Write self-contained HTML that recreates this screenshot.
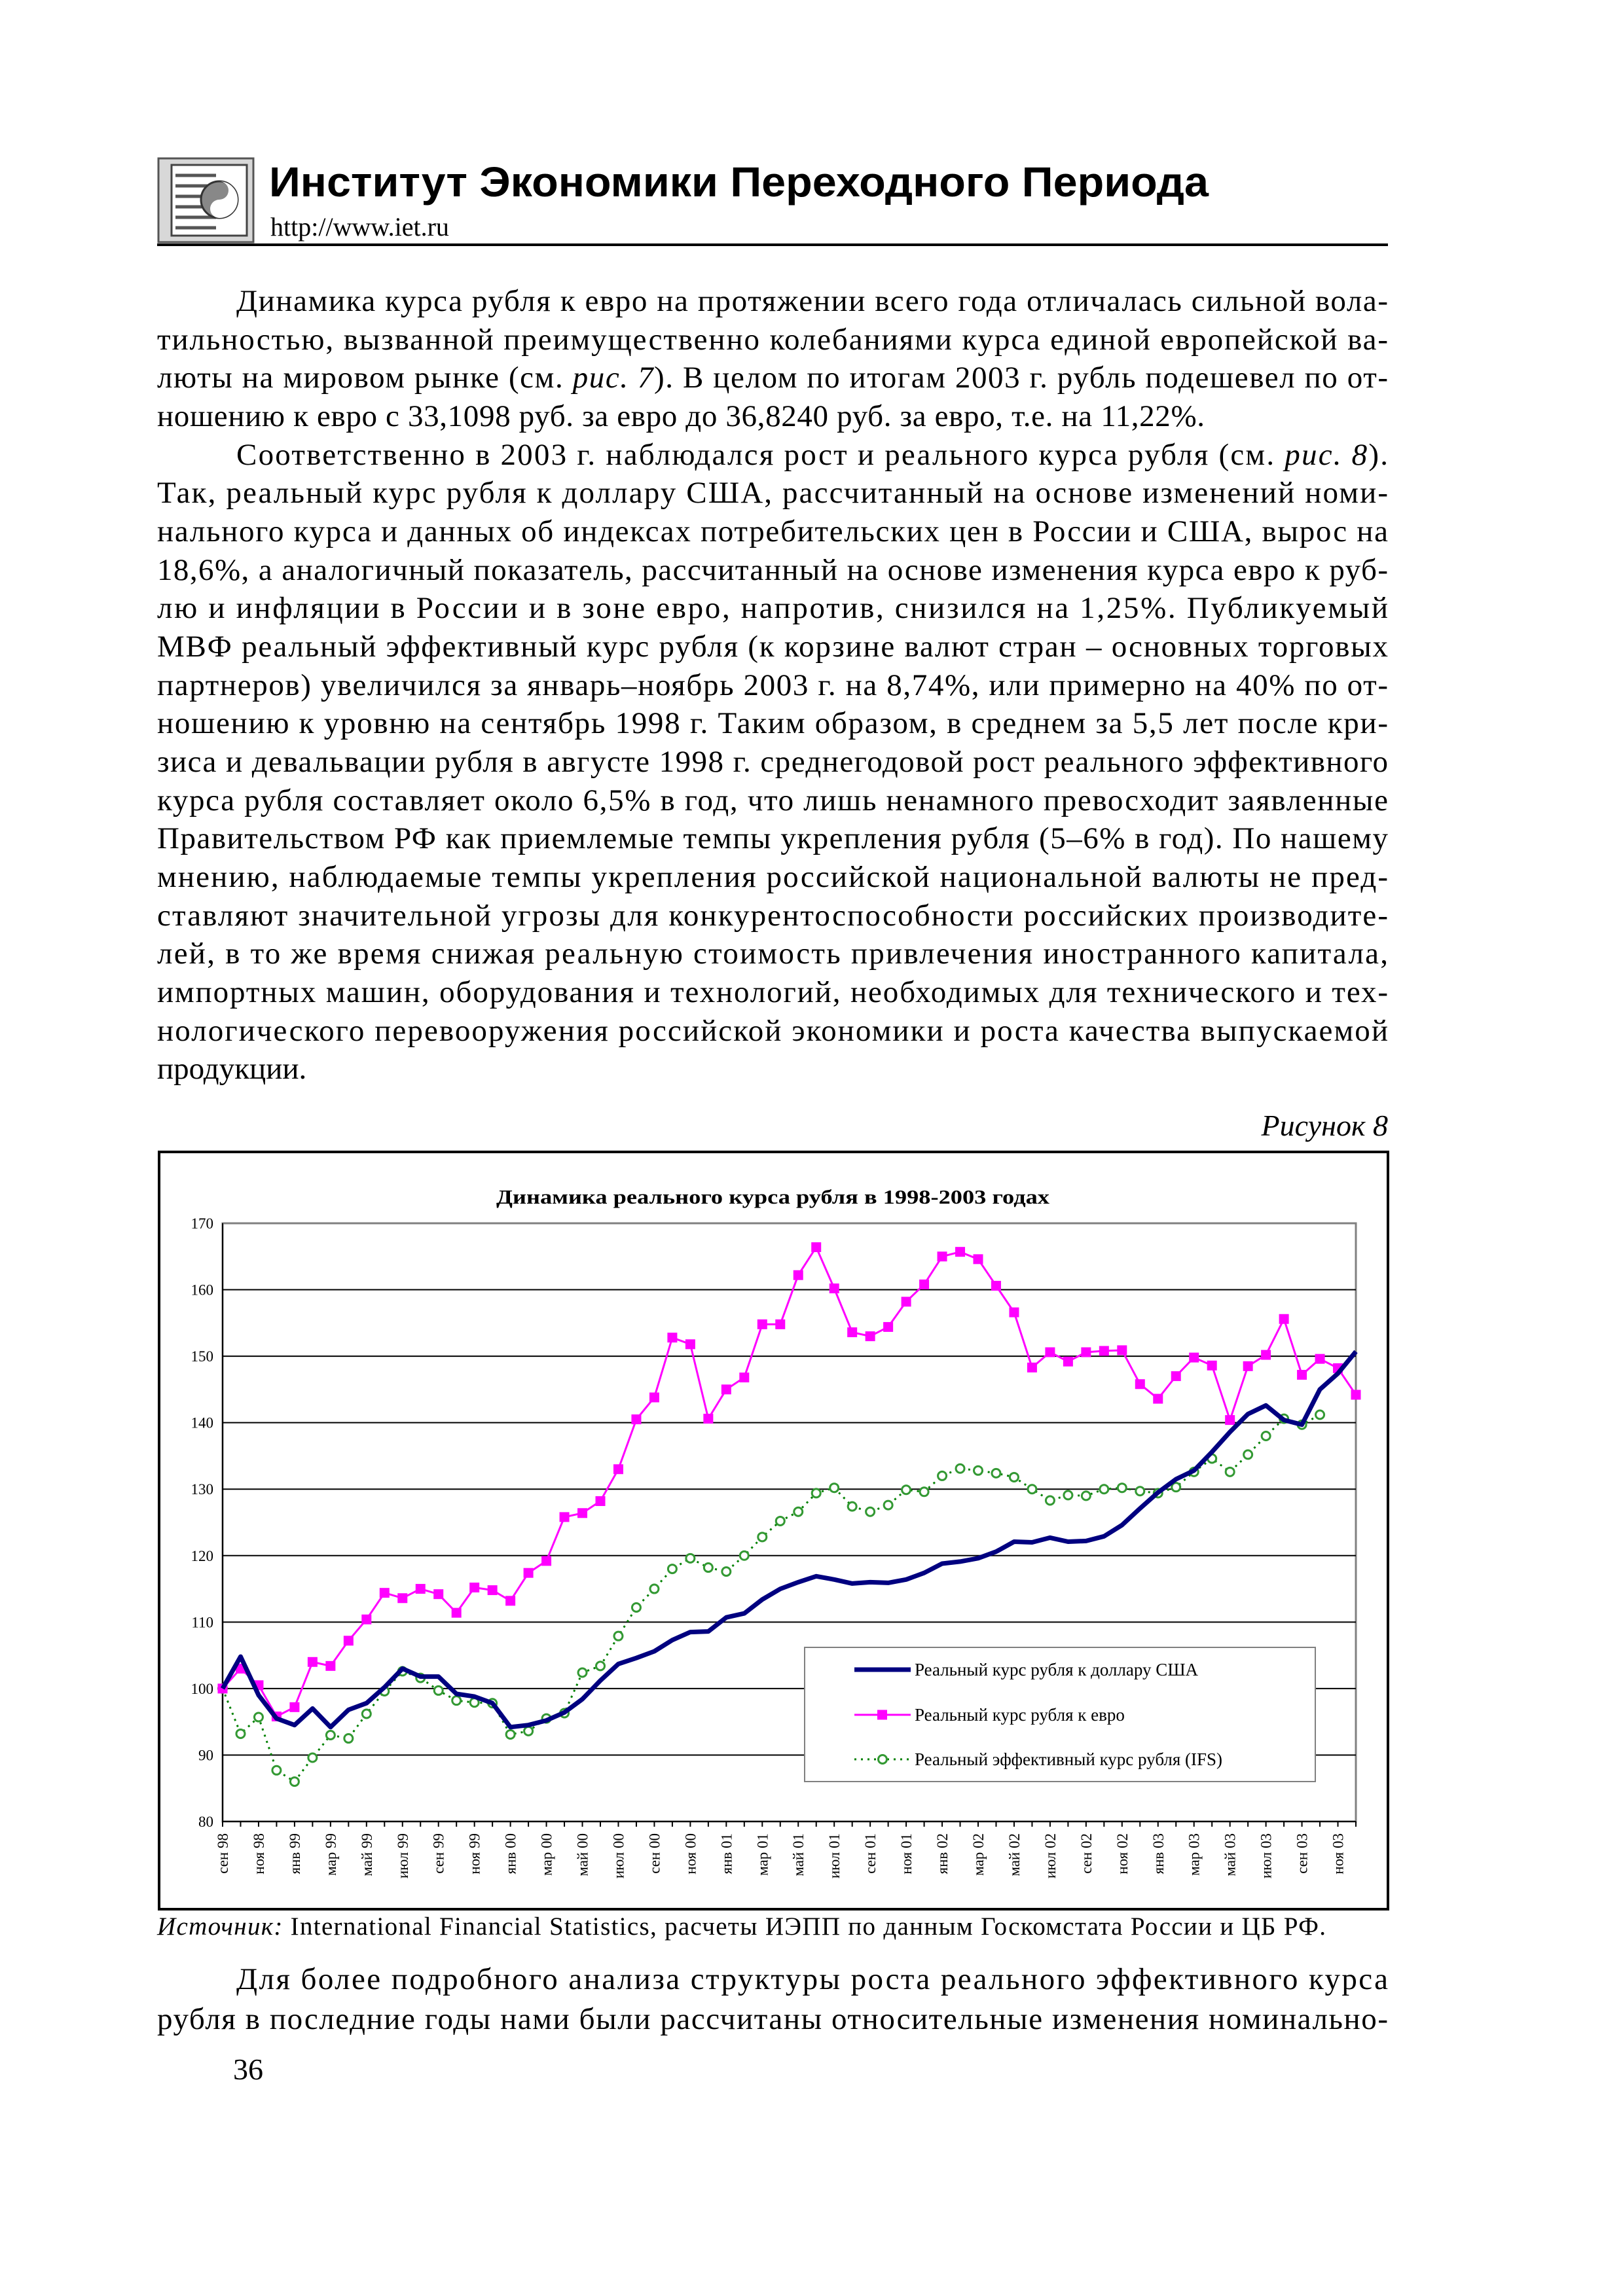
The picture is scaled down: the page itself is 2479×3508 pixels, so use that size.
<!DOCTYPE html>
<html><head><meta charset="utf-8"><style>
html,body{margin:0;padding:0;background:#fff}
svg{display:block}
.b{font-family:"Liberation Serif",serif;font-size:47px;fill:#000}
.ax{font-family:"Liberation Serif",serif;font-size:23px;fill:#000}
</style></head><body>
<svg id="page" xmlns="http://www.w3.org/2000/svg" width="2479" height="3508" viewBox="0 0 2479 3508">
<rect width="2479" height="3508" fill="#fff"/>
<g>
<rect x="242" y="242" width="145" height="128" fill="#d8d8d8" stroke="#555" stroke-width="3"/>
<rect x="262" y="252" width="115" height="108" fill="#fff" stroke="#444" stroke-width="3"/>
<g stroke="#555" stroke-width="5"><line x1="268" y1="268" x2="330" y2="268"/><line x1="268" y1="284" x2="330" y2="284"/><line x1="268" y1="300" x2="310" y2="300"/><line x1="268" y1="316" x2="310" y2="316"/><line x1="268" y1="332" x2="330" y2="332"/><line x1="268" y1="348" x2="330" y2="348"/></g>
<circle cx="335" cy="305" r="28" fill="#888" stroke="#333" stroke-width="3"/>
<path d="M335 277 A28 28 0 0 1 335 333 A14 14 0 0 1 335 305 A14 14 0 0 0 335 277Z" fill="#fff"/>
</g>
<text x="411" y="300" font-family="Liberation Sans, sans-serif" font-weight="bold" font-size="64" textLength="1435" lengthAdjust="spacingAndGlyphs">Институт Экономики Переходного Периода</text>
<text x="413" y="360" font-family="Liberation Serif, serif" font-size="40">http://www.iet.ru</text>
<rect x="240" y="372" width="1880" height="4" fill="#000"/>

<g class="b">
<text x="361" y="475" textLength="1759" lengthAdjust="spacing">Динамика курса рубля к евро на протяжении всего года отличалась сильной вола-</text>
<text x="240" y="534" textLength="1880" lengthAdjust="spacing">тильностью, вызванной преимущественно колебаниями курса единой европейской ва-</text>
<text x="240" y="592" textLength="1880" lengthAdjust="spacing">люты на мировом рынке (см. <tspan font-style="italic">рис. 7</tspan>). В целом по итогам 2003 г. рубль подешевел по от-</text>
<text x="240" y="651" textLength="1600" lengthAdjust="spacing">ношению к евро с 33,1098 руб. за евро до 36,8240 руб. за евро, т.е. на 11,22%.</text>
<text x="361" y="710" textLength="1759" lengthAdjust="spacing">Соответственно в 2003 г. наблюдался рост и реального курса рубля (см. <tspan font-style="italic">рис. 8</tspan>).</text>
<text x="240" y="768" textLength="1880" lengthAdjust="spacing">Так, реальный курс рубля к доллару США, рассчитанный на основе изменений номи-</text>
<text x="240" y="827" textLength="1880" lengthAdjust="spacing">нального курса и данных об индексах потребительских цен в России и США, вырос на</text>
<text x="240" y="886" textLength="1880" lengthAdjust="spacing">18,6%, а аналогичный показатель, рассчитанный на основе изменения курса евро к руб-</text>
<text x="240" y="944" textLength="1880" lengthAdjust="spacing">лю и инфляции в России и в зоне евро, напротив, снизился на 1,25%. Публикуемый</text>
<text x="240" y="1003" textLength="1880" lengthAdjust="spacing">МВФ реальный эффективный курс рубля (к корзине валют стран – основных торговых</text>
<text x="240" y="1062" textLength="1880" lengthAdjust="spacing">партнеров) увеличился за январь–ноябрь 2003 г. на 8,74%, или примерно на 40% по от-</text>
<text x="240" y="1120" textLength="1880" lengthAdjust="spacing">ношению к уровню на сентябрь 1998 г. Таким образом, в среднем за 5,5 лет после кри-</text>
<text x="240" y="1179" textLength="1880" lengthAdjust="spacing">зиса и девальвации рубля в августе 1998 г. среднегодовой рост реального эффективного</text>
<text x="240" y="1238" textLength="1880" lengthAdjust="spacing">курса рубля составляет около 6,5% в год, что лишь ненамного превосходит заявленные</text>
<text x="240" y="1296" textLength="1880" lengthAdjust="spacing">Правительством РФ как приемлемые темпы укрепления рубля (5–6% в год). По нашему</text>
<text x="240" y="1355" textLength="1880" lengthAdjust="spacing">мнению, наблюдаемые темпы укрепления российской национальной валюты не пред-</text>
<text x="240" y="1414" textLength="1880" lengthAdjust="spacing">ставляют значительной угрозы для конкурентоспособности российских производите-</text>
<text x="240" y="1472" textLength="1880" lengthAdjust="spacing">лей, в то же время снижая реальную стоимость привлечения иностранного капитала,</text>
<text x="240" y="1531" textLength="1880" lengthAdjust="spacing">импортных машин, оборудования и технологий, необходимых для технического и тех-</text>
<text x="240" y="1590" textLength="1880" lengthAdjust="spacing">нологического перевооружения российской экономики и роста качества выпускаемой</text>
<text x="240" y="1648">продукции.</text>
</g>
<text x="2120" y="1735" text-anchor="end" font-family="Liberation Serif, serif" font-style="italic" font-size="46">Рисунок 8</text>

<rect x="243" y="1760" width="1877" height="1157" fill="#fff" stroke="#000" stroke-width="4"/>
<text x="758" y="1839" font-family="Liberation Serif, serif" font-weight="bold" font-size="31" textLength="845" lengthAdjust="spacingAndGlyphs">Динамика реального курса рубля в 1998-2003 годах</text>
<g id="chart"></g>

<text x="240" y="2956" font-family="Liberation Serif, serif" font-size="39" textLength="1785" lengthAdjust="spacing"><tspan font-style="italic">Источник:</tspan> International Financial Statistics, расчеты ИЭПП по данным Госкомстата России и ЦБ РФ.</text>
<g class="b">
<text x="361" y="3039" textLength="1759" lengthAdjust="spacing">Для более подробного анализа структуры роста реального эффективного курса</text>
<text x="240" y="3100" textLength="1880" lengthAdjust="spacing">рубля в последние годы нами были рассчитаны относительные изменения номинально-</text>
</g>
<text x="356" y="3177" font-family="Liberation Serif, serif" font-size="46">36</text>
</svg>
<script>
const categories = ["сен 98","окт 98","ноя 98","дек 98","янв 99","фев 99","мар 99","апр 99","май 99","июн 99","июл 99","авг 99","сен 99","окт 99","ноя 99","дек 99","янв 00","фев 00","мар 00","апр 00","май 00","июн 00","июл 00","авг 00","сен 00","окт 00","ноя 00","дек 00","янв 01","фев 01","мар 01","апр 01","май 01","июн 01","июл 01","авг 01","сен 01","окт 01","ноя 01","дек 01","янв 02","фев 02","мар 02","апр 02","май 02","июн 02","июл 02","авг 02","сен 02","окт 02","ноя 02","дек 02","янв 03","фев 03","мар 03","апр 03","май 03","июн 03","июл 03","авг 03","сен 03","окт 03","ноя 03","дек 03"];
const usdSeries = [100,104.8,99,95.5,94.5,97,94.2,96.8,97.8,100.2,103,101.8,101.8,99.2,98.8,97.8,94.2,94.5,95.2,96.4,98.4,101.2,103.7,104.6,105.6,107.3,108.5,108.6,110.7,111.3,113.4,115,116,116.9,116.4,115.8,116,115.9,116.4,117.4,118.8,119.1,119.6,120.6,122.1,122,122.7,122.1,122.2,122.9,124.6,127.1,129.5,131.5,132.8,135.6,138.6,141.3,142.6,140.4,139.7,145,147.4,150.7];
const euroSeries = [100,103,100.5,95.8,97.2,104,103.4,107.2,110.4,114.4,113.6,115,114.2,111.4,115.2,114.8,113.2,117.4,119.2,125.8,126.4,128.2,133,140.5,143.8,152.8,151.8,140.6,145,146.8,154.8,154.8,162.2,166.4,160.2,153.6,153,154.4,158.2,160.8,165,165.7,164.6,160.6,156.6,148.3,150.6,149.2,150.6,150.8,150.9,145.8,143.6,147,149.8,148.6,140.4,148.5,150.2,155.6,147.2,149.6,148.2,144.2];
const ifsSeries = [100,93.2,95.7,87.7,86,89.6,93,92.5,96.2,99.6,102.6,101.6,99.7,98.2,97.9,97.8,93.1,93.6,95.5,96.3,102.4,103.4,107.9,112.2,115,118,119.6,118.2,117.6,120,122.8,125.2,126.6,129.4,130.2,127.4,126.6,127.6,129.9,129.6,132,133.1,132.8,132.4,131.8,130,128.3,129.1,129,130,130.2,129.7,129.4,130.3,132.6,134.6,132.6,135.2,138,140.6,139.7,141.2];
const yTicks = [80,90,100,110,120,130,140,150,160,170];
const seriesNames = ["Реальный курс рубля к доллару США","Реальный курс рубля к евро","Реальный эффективный курс рубля (IFS)"];

const NS = "http://www.w3.org/2000/svg";
const g = document.getElementById('chart');
const L = 340, R = 2071, T = 1869, B = 2783, YMIN = 80, YMAX = 170;
function xs(i){ return L + i*(R-L)/(categories.length-1); }
function ys(v){ return B - (v-YMIN)*(B-T)/(YMAX-YMIN); }
function mk(tag, attrs, parent){ const e = document.createElementNS(NS, tag); for (const k in attrs) e.setAttribute(k, attrs[k]); (parent||g).appendChild(e); return e; }

const bg = mk('rect', {x:L, y:T, width:R-L, height:B-T, fill:'#fff', stroke:'#808080', 'stroke-width':3});


yTicks.forEach(v => {
  if (v !== YMIN && v !== YMAX) {
    const ln = mk('line', {x1:L, x2:R, y1:ys(v), y2:ys(v), stroke:'#000', 'stroke-width': 2});
    
    
  }
  const t = mk('text', {x:L-14, y:ys(v)+8, 'text-anchor':'end', class:'ax'});
  t.textContent = v;
  
  
});
mk('line', {x1:L, x2:L, y1:T, y2:B, stroke:'#000', 'stroke-width':2});
mk('line', {x1:L, x2:R, y1:B, y2:B, stroke:'#000', 'stroke-width':2});
categories.forEach((c, i) => {
  mk('line', {x1:xs(i), x2:xs(i), y1:B, y2:B+8, stroke:'#000', 'stroke-width':2});
  if (i % 2 === 0) {
    const t = mk('text', {x:0, y:0, 'text-anchor':'end', class:'ax', transform:'translate(' + (xs(i)+8) + ',' + (B+18) + ') rotate(-90)'});
    t.textContent = c;
    
    
  }
});
function path(arr){ return arr.map((v,i)=>(i?'L':'M')+xs(i).toFixed(1)+' '+ys(v).toFixed(1)).join(' '); }

const gl = mk('path', {d:path(ifsSeries), fill:'none', stroke:'#008000', 'stroke-width':3, 'stroke-dasharray':'3 7'});


ifsSeries.forEach((v,i) => {
  const c = mk('circle', {cx:xs(i), cy:ys(v), r:6.5, fill:'#fff', stroke:'#339933', 'stroke-width':3});
  
  
});
const pl = mk('path', {d:path(euroSeries), fill:'none', stroke:'#ff00ff', 'stroke-width':3});


euroSeries.forEach((v,i) => {
  const s = mk('rect', {x:xs(i)-7.5, y:ys(v)-7.5, width:15, height:15, fill:'#ff00ff'});
  
  
});
const nl = mk('path', {d:path(usdSeries), fill:'none', stroke:'#000080', 'stroke-width':7, 'stroke-linejoin':'round'});



const lg = mk('g', {});


mk('rect', {x:1229, y:2517, width:780, height:205, fill:'#fff', stroke:'#808080', 'stroke-width':2}, lg);
const ly = [2551, 2620, 2688];
mk('line', {x1:1305, x2:1391, y1:ly[0], y2:ly[0], stroke:'#000080', 'stroke-width':7}, lg);
mk('line', {x1:1305, x2:1391, y1:ly[1], y2:ly[1], stroke:'#ff00ff', 'stroke-width':3}, lg);
mk('rect', {x:1340, y:ly[1]-7.5, width:15, height:15, fill:'#ff00ff'}, lg);
mk('line', {x1:1305, x2:1391, y1:ly[2], y2:ly[2], stroke:'#008000', 'stroke-width':3, 'stroke-dasharray':'3 7'}, lg);
mk('circle', {cx:1348, cy:ly[2], r:6.5, fill:'#fff', stroke:'#339933', 'stroke-width':3}, lg);
seriesNames.forEach((n,k) => {
  const t = mk('text', {x:1397, y:ly[k]+9, style:'font-family:"Liberation Serif",serif;font-size:27px'}, lg);
  t.textContent = n;
  
  
});
</script>
</body></html>
